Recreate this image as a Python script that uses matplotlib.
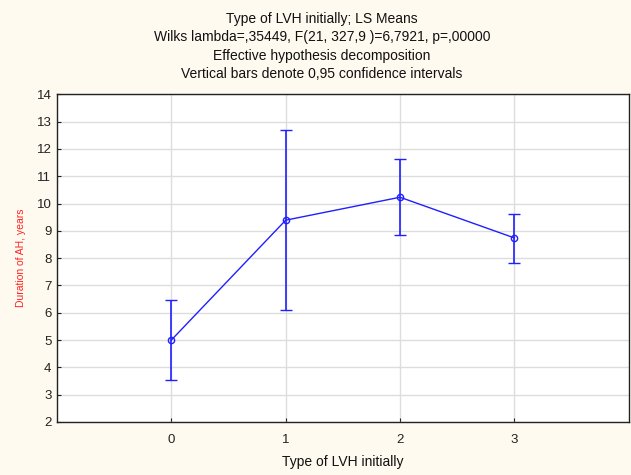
import matplotlib
matplotlib.use('Agg')
import matplotlib.pyplot as plt

# LS means of AH duration by initial LVH type, with 0.95 CI
lvh_types = [0, 1, 2, 3]
means = [5.0, 9.39, 10.23, 8.74]
ci_low = [3.52, 6.10, 8.85, 7.83]
ci_high = [6.47, 12.68, 11.63, 9.63]

title_lines = [
    'Type of LVH initially; LS Means',
    'Wilks lambda=,35449, F(21, 327,9 )=6,7921, p=,00000',
    'Effective hypothesis decomposition',
    'Vertical bars denote 0,95 confidence intervals',
]

plt.rcParams['font.family'] = ['Liberation Sans', 'DejaVu Sans']

fig = plt.figure(figsize=(6.31, 4.75), dpi=100, facecolor='#FFFAF0')
ax = fig.add_axes([0.0903, 0.1116, 0.9061, 0.6899])
ax.set_facecolor('white')

err_lo = [m - lo for m, lo in zip(means, ci_low)]
err_hi = [hi - m for m, hi in zip(means, ci_high)]
ax.errorbar(lvh_types, means, yerr=[err_lo, err_hi], color='#2020FF',
            linewidth=1.0, elinewidth=1.2, capsize=4.5, capthick=1.2,
            marker='o', markersize=4.5, markerfacecolor='none',
            markeredgecolor='#2020FF', markeredgewidth=1.0, zorder=3)

ax.set_xlim(-1, 4)
ax.set_ylim(2, 14)
ax.set_xticks(lvh_types)
ax.set_yticks(range(2, 15))
ax.grid(True, color='#DDDDDD', linewidth=1.0)
ax.set_axisbelow(True)
ax.tick_params(direction='in', length=3, labelsize=9.5, colors='#222222')
ax.tick_params(axis='y', pad=4)
ax.tick_params(axis='x', pad=8.5)
for sp in ax.spines.values():
    sp.set_color('#222222')
    sp.set_linewidth(1.0)

ax.set_xlabel('Type of LVH initially', fontsize=10, color='#111111',
              labelpad=6.5)
fig.text(21 / 631, 1 - 258 / 475, 'Duration of AH, years', color='#FF2020',
         fontsize=7.5, rotation=90, ha='center', va='center')

for i, line in enumerate(title_lines):
    fig.text(322 / 631, 1 - (18.5 + 18.6 * i) / 475, line, fontsize=10,
             ha='center', va='center', color='#111111')

fig.savefig('out.png', dpi=100, facecolor=fig.get_facecolor())
